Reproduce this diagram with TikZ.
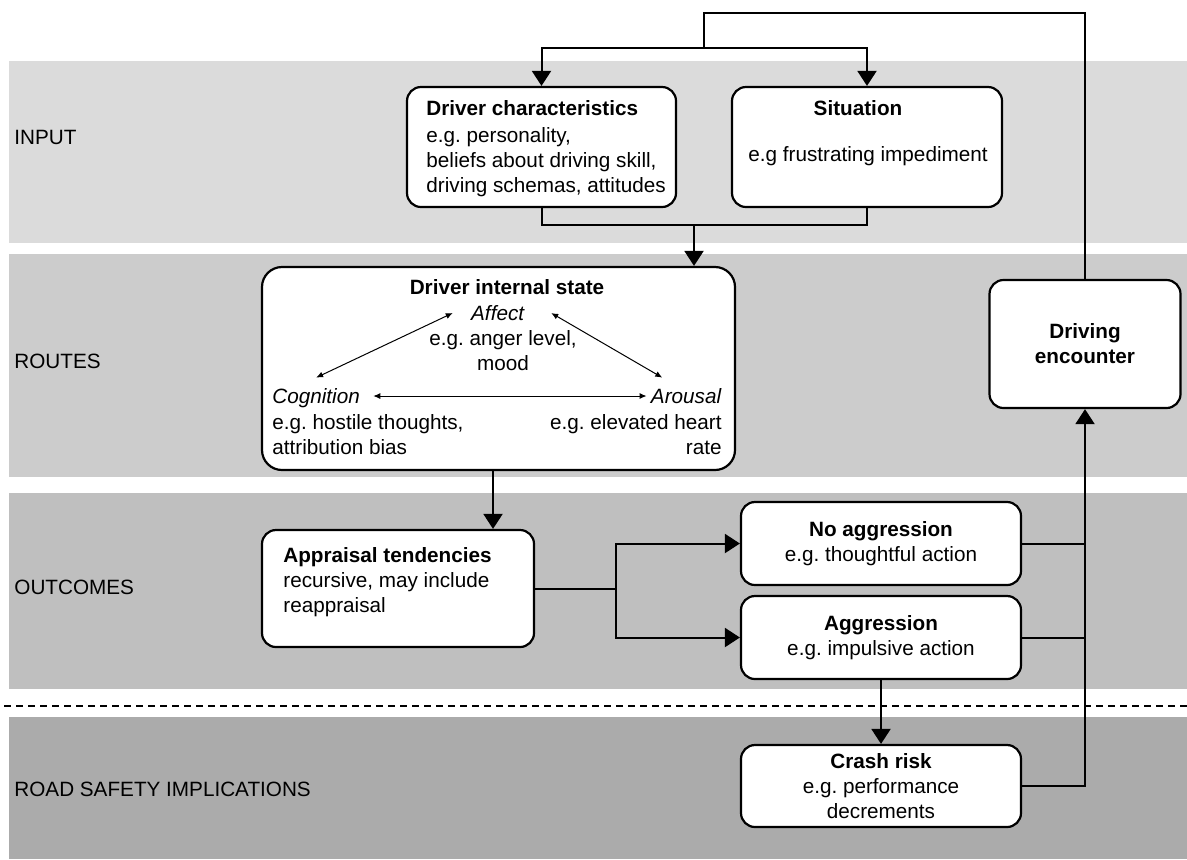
\documentclass[tikz,border=0pt]{standalone}
\usepackage{fontspec}
\setmainfont{Liberation Sans}
\usetikzlibrary{arrows.meta}
\frenchspacing

\begin{document}
\begin{tikzpicture}[
        x = 0.5pt, y = -0.5pt,
        font = \fontsize{10.35}{12.5}\selectfont,
        box/.style = {
            draw,
            fill = white,
            rounded corners = 7pt,
            line width = 1.1pt,
            inner sep = 0pt,
            align = center
        },
        txt/.style = {
            inner sep = 0pt
        },
        lbl/.style = {
            inner sep = 0pt,
            anchor = west
        },
        wire/.style = {
            line width = 1pt
        },
        arr/.style = {
            line width = 1pt,
            -{Triangle[width=9.5pt, length=7.5pt]}
        },
        duo/.style = {
            line width = 0.5pt,
            {Latex[width=3pt, length=3.5pt]}-{Latex[width=3pt, length=3.5pt]}
        }
        ]
        \useasboundingbox (0,0) rectangle (1187,859);
%
        \fill[black!14] (9,61) rectangle (1187,243);
        \fill[black!20] (9,254) rectangle (1187,477);
        \fill[black!25] (9,493) rectangle (1187,689);
        \fill[black!33] (9,717) rectangle (1187,859);
        \draw[line width = 0.8pt, dash pattern = on 3.5pt off 2.5pt] (4,706) -- (1187,706);
%
        \node[lbl] (input) at (14,137) {INPUT};
        \node[lbl] (routes) at (14,361) {ROUTES};
        \node[lbl] (outcomes) at (14,587) {OUTCOMES};
        \node[lbl] (roadsafety) at (14,789) {ROAD SAFETY IMPLICATIONS};
%
        \node[box, minimum width = 134.5pt, minimum height = 60pt] (drvchar) at (541.5,147) {};
        \node[box, minimum width = 135pt, minimum height = 60pt] (situation) at (867,147) {};
        \node[box, rounded corners = 10pt, minimum width = 236.5pt, minimum height = 101.5pt] (internal) at (498.5,368.5) {};
        \node[box, minimum width = 95.5pt, minimum height = 64pt] (encounter) at (1085,344) {\textbf{Driving}\\\textbf{encounter}};
        \node[box, minimum width = 136pt, minimum height = 58.5pt] (appraisal) at (398,588.5) {};
        \node[box, minimum width = 140pt, minimum height = 41.5pt] (noaggr) at (881,543.5) {\textbf{No aggression}\\e.g. thoughtful action};
        \node[box, minimum width = 140pt, minimum height = 41.5pt] (aggr) at (881,637.5) {\textbf{Aggression}\\e.g. impulsive action};
        \node[box, minimum width = 140pt, minimum height = 41pt] (crash) at (881,786) {\textbf{Crash risk}\\e.g. performance\\decrements};
%
        \node[txt, anchor = west] (drvcharhead) at (426,108) {\textbf{Driver characteristics}};
        \node[txt, anchor = west, align = left] (drvcharbody) at (426,162) {e.g. personality,\\beliefs about driving skill,\\driving schemas, attitudes};
        \node[txt] (sithead) at (858,108) {\textbf{Situation}};
        \node[txt] (sitbody) at (868,156) {e.g frustrating impediment};
%
        \node[txt] (inthead) at (507,287) {\textbf{Driver internal state}};
        \node[txt] (affect) at (498,313) {\textit{Affect}};
        \node[txt, align = center] (affectnote) at (503,351) {e.g. anger level,\\mood};
        \node[txt, anchor = base west] (cognition) at (272,403) {\textit{Cognition}};
        \node[txt, anchor = west, align = left] (cognitionnote) at (272,434.5) {e.g. hostile thoughts,\\attribution bias};
        \node[txt, anchor = base east] (arousal) at (722,403) {\textit{Arousal}};
        \node[txt, anchor = east, align = right] (arousalnote) at (722,434.5) {e.g. elevated heart\\rate};
%
        \node[txt, anchor = west] (apphead) at (283,557) {\textbf{Appraisal tendencies}};
        \node[txt, anchor = west, align = left] (appbody) at (283,594.5) {recursive, may include\\reappraisal};
%
        \draw[duo] ([xshift=-9pt]affect.west) -- ([yshift=5pt]cognition.north);
        \draw[duo] ([xshift=13pt]affect.east) -- ([shift={(-12pt,5pt)}]arousal.north);
        \draw[duo] ([shift={(6.5pt,3.5pt)}]cognition.base east) -- ([shift={(-2pt,3.5pt)}]arousal.base west);
%
        \coordinate (loop) at (704,13);
        \coordinate (split) at (704,48);
        \draw[wire] (encounter.north) |- (loop) -- (split);
        \draw[arr] (split) -| (drvchar.north);
        \draw[arr] (split) -| (situation.north);
%
        \coordinate (merge) at (694,225);
        \draw[wire] (drvchar.south) |- (merge);
        \draw[wire] (situation.south) |- (merge);
        \draw[arr] (merge) -- (merge |- internal.north);
%
        \coordinate (cut) at ([xshift=-2.75pt]internal.south);
        \draw[arr] (cut) -- (cut |- appraisal.north);
%
        \coordinate (fork) at ([xshift=40.5pt]appraisal.east);
        \draw[wire] (appraisal.east) -- (fork);
        \draw[arr] (fork) |- (noaggr.west);
        \draw[arr] (fork) |- (aggr.west);
%
        \draw[wire] (noaggr.east) -- (noaggr.east -| encounter.south);
        \draw[wire] (aggr.east) -- (aggr.east -| encounter.south);
        \draw[arr] (crash.east) -| (encounter.south);
        \draw[arr] (aggr.south) -- (crash.north);
%
    \end{tikzpicture}
\end{document}
